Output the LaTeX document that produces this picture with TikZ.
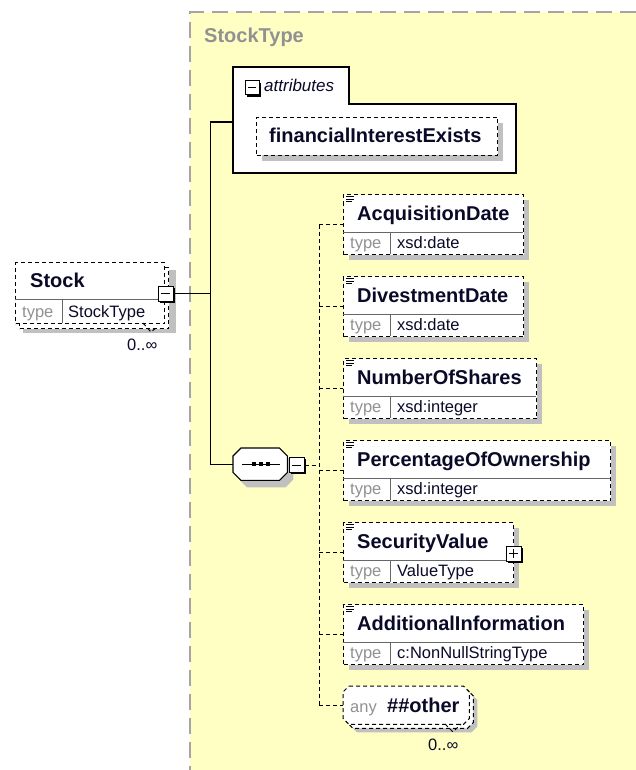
\documentclass[tikz,border=0pt]{standalone}
\usepackage{fontspec}
\setmainfont{Liberation Sans}
\usetikzlibrary{positioning}
\definecolor{bgyellow}{RGB}{255,255,196}
\definecolor{shadegray}{RGB}{192,192,192}
\definecolor{framegray}{RGB}{165,165,165}
\definecolor{typegray}{RGB}{145,145,145}
\definecolor{inkblue}{RGB}{10,10,40}
\tikzset{
	elem node/.style={draw,fill=white,anchor=north west,inner sep=0pt,line width=1pt,dash pattern=on 4pt off 3pt},
	ttl/.style={font=\fontsize{20}{24}\selectfont\bfseries,text=inkblue,anchor=base west,inner sep=0pt},
	typ/.style={font=\fontsize{16.5}{20}\selectfont,text=inkblue,anchor=base west,inner sep=0pt},
	typlbl/.style={typ,text=typegray},
	shade/.style={fill=shadegray},
	pm box/.style={draw,fill=white,line width=1pt,minimum size=15pt,inner sep=0pt,
		preaction={fill=black,transform canvas={shift={(1.8pt,-1.8pt)}}}},
	minus/.style={pm box,path picture={\draw[line width=1pt] ([xshift=3pt]path picture bounding box.west) -- ([xshift=-3pt]path picture bounding box.east);}},
	plus/.style={pm box,path picture={\draw[line width=1pt] ([xshift=3pt]path picture bounding box.west) -- ([xshift=-3pt]path picture bounding box.east)
		([yshift=-3pt]path picture bounding box.north) -- ([yshift=3pt]path picture bounding box.south);}},
	hold/.style={inner sep=0pt,anchor=north west},
	conn/.style={line width=1.1pt},
	dconn/.style={line width=1pt,dash pattern=on 4pt off 3pt}
}
% one element box: name, x, y (top), width, title, type
\newcommand{\elembox}[6]{%
	\fill[shade] (#2+6,#3+6) rectangle (#2+#4+6,#3+66);
	\node[elem node,minimum width=#4,minimum height=60] (#1) at (#2,#3) {};
	\draw[gray!80!black,line width=0.8pt] (#2,#3+38) -- (#2+#4,#3+38) (#2+47,#3+38) -- (#2+47,#3+60);
	\node[ttl] (#1n) at (#2+14,#3+26) {#5};
	\node[typlbl] (#1l) at (#2+7,#3+54) {type};
	\node[typ] (#1t) at (#2+54,#3+54) {#6};
	\draw[line width=0.7pt] (#2+3,#3+2.5) -- ++(8,0) (#2+3,#3+5) -- ++(8,0) (#2+3,#3+7.5) -- ++(6,0);
}
% octagon outline round a node
\newcommand{\octa}[3]{% node, cut, options
	\path[#3] ([xshift=#2]#1.north west) -- ([xshift=-#2]#1.north east) -- ([yshift=-#2]#1.north east)
		-- ([yshift=#2]#1.south east) -- ([xshift=-#2]#1.south east) -- ([xshift=#2]#1.south west)
		-- ([yshift=#2]#1.south west) -- ([yshift=-#2]#1.north west) -- cycle;
}

\begin{document}
\begin{tikzpicture}[x=1pt,y=-1pt]
	\useasboundingbox (0,0) rectangle (636,770);
	% complex type area
	\fill[bgyellow] (190,12) rectangle (636,770);
	\draw[framegray,line width=2pt,dash pattern=on 16pt off 8pt] (636,12) -- (190,12) -- (190,770);
	\node[ttl,text=typegray] (0) at (204,43) {StockType};

	% Stock
	\fill[shade] (23,270) rectangle (176,333);
	\node[elem node,minimum width=149,minimum height=61] (1b) at (19,267) {};
	\node[elem node,minimum width=149,minimum height=61] (1) at (15,262) {};
	\draw[gray!80!black,line width=0.8pt] (15,299) -- (164,299) (62,299) -- (62,323);
	\node[ttl] (1n) at (30,287) {Stock};
	\node[typlbl] (1l) at (22,317) {type};
	\node[typ] (1t) at (68,317) {StockType};
	\draw[dconn] (143,323) -- (151,332) -- (157,327);
	\node[typ] (1c) at (127,350) {0..∞};
	\node[minus] (1m) at (165.5,293.5) {};

	% attributes
	\draw[line width=1.2pt,fill=white] (233,67) -- (349,67) -- (349,104) -- (516,104) -- (516,173) -- (233,173) -- cycle;
	\coordinate (attr) at (233,122);
	\node[minus,minimum size=14pt] (2m) at (252,88) {};
	\node[typ,font=\fontsize{17}{20}\selectfont\itshape] (2) at (264,92) {attributes};
	\fill[shade] (262,123) rectangle (503,161);
	\node[elem node,minimum width=241,minimum height=38] (3) at (256,117) {};
	\node[ttl] (3n) at (269,143) {financialInterestExists};

	% sequence
	\node[hold,minimum width=54,minimum height=32] (4s) at (239,455) {};
	\node[hold,minimum width=54,minimum height=32] (4) at (233,448) {};
	\octa{4s}{8pt}{fill=shadegray}
	\octa{4}{8pt}{draw,fill=white,line width=1.1pt}
	\draw[line width=1pt] (242,464) -- (280,464);
	\foreach \x in {254,261,268} \fill (\x-2,462) rectangle (\x+2,466);
	\node[minus] (4m) at (296.5,465) {};

	% trunk
	\draw[conn] (1m.east) -- ++(37,0) coordinate (trunk);
	\draw[conn] (attr) -| (trunk) |- (4.west);

	% elements
	\elembox{5}{343}{194}{180}{AcquisitionDate}{xsd:date}
	\elembox{6}{343}{276}{180}{DivestmentDate}{xsd:date}
	\elembox{7}{343}{358}{193}{NumberOfShares}{xsd:integer}
	\elembox{8}{343}{440}{267}{PercentageOfOwnership}{xsd:integer}
	\elembox{9}{343}{522}{170}{SecurityValue}{ValueType}
	\elembox{10}{343}{604}{240}{AdditionalInformation}{c:NonNullStringType}
	\node[plus] (9m) at (513.5,553.5) {};

	% any
	\node[hold,minimum width=126,minimum height=38] (11s) at (351,694) {};
	\node[hold,minimum width=126,minimum height=38] (11b) at (347,690) {};
	\node[hold,minimum width=126,minimum height=38] (11) at (343,686) {};
	\octa{11s}{6pt}{fill=shadegray}
	\octa{11b}{6pt}{draw,fill=white,dconn}
	\octa{11}{6pt}{draw,fill=white,dconn}
	\node[typlbl] (11l) at (350,712) {any};
	\node[ttl] (11n) at (387,712) {\#\#other};
	\draw[dconn] (445,724) -- (453,732) -- (461,724);
	\node[typ] (11c) at (428,750) {0..∞};

	% sequence bus
	\draw[dconn] (4m.east) -- (319,465) coordinate (bus);
	\draw[dconn] (5.west -| bus) -- (11.west -| bus);
	\foreach \n in {5,6,7,8,9,10,11}
		\draw[dconn] (\n.west -| bus) -- (\n.west);
\end{tikzpicture}
\end{document}
